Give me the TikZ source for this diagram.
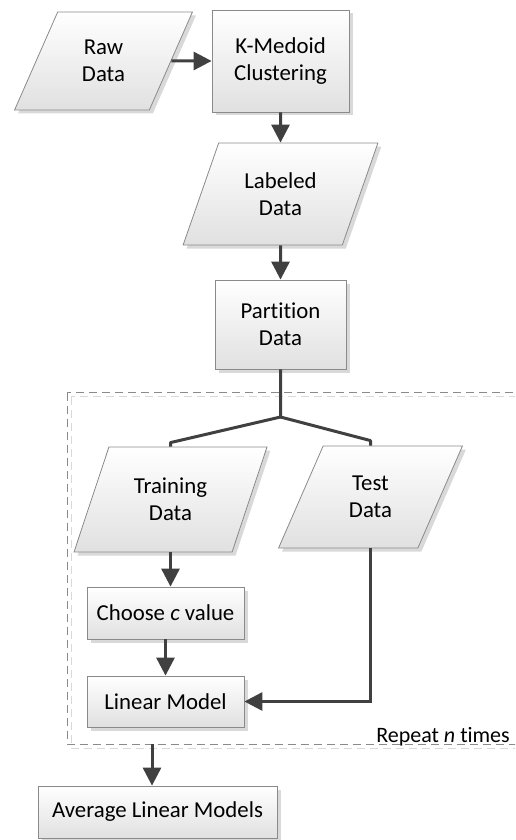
\documentclass[tikz,border=0pt]{standalone}
\usepackage{fontspec}
\setmainfont{Carlito}[Ligatures=NoCommon]
\usetikzlibrary{arrows.meta,shapes.geometric,shadows,calc}

\definecolor{flowline}{HTML}{404040}
\definecolor{boxedge}{HTML}{8A8A8A}
\definecolor{shade}{HTML}{D9D9D9}

\tikzset{
  label text/.style={font=\fontsize{22.8}{26.7}\selectfont},
  base/.style={draw=boxedge, line width=0.8pt, top color=white, bottom color=black!12,
    align=center, label text, inner sep=0pt,
    drop shadow={shadow xshift=3.5pt, shadow yshift=-3.5pt, fill=shade, opacity=1}},
  process/.style={base, rectangle},
  datanode/.style={base, trapezium, trapezium left angle=64, trapezium right angle=116,
    trapezium stretches=true},
  flow/.style={draw=flowline, line width=3pt, -{Triangle[length=18pt,width=18pt]}},
  branch/.style={draw=flowline, line width=3pt, line join=round},
  loopframe/.style={draw=boxedge, line width=1pt, dash pattern=on 8pt off 5pt},
}

\begin{document}
\begin{tikzpicture}[x=1pt, y=-1pt]
\useasboundingbox (0,0) rectangle (515,840);
\clip (0,0) rectangle (515,840);

% repeated part of the procedure: dashed frame with its light offset copy
\coordinate (frameNW) at (67,392.5);
\coordinate (frameSE) at (530,744);
\draw[loopframe, draw=shade] ($(frameNW)+(4,4)$) rectangle ($(frameSE)+(4,4)$);
\draw[loopframe] (frameNW) rectangle (frameSE);
\coordinate (loopexit) at (152,744);
\node[anchor=base east, font=\fontsize{22}{26.7}\selectfont, inner sep=0pt] (repeat) at (510,742) {Repeat \emph{n} times};

% steps
\node[datanode, minimum width=179pt, minimum height=98pt] (raw) at (103.5,61) {Raw\\Data};
\node[process, minimum width=137pt, minimum height=102pt] (km) at (280.5,61) {K-Medoid\\Clustering};
\node[datanode, minimum width=195pt, minimum height=102pt] (lab) at (280.5,194) {Labeled\\Data};
\node[process, minimum width=131pt, minimum height=89pt] (part) at (280.5,324.5) {Partition\\Data};
\node[datanode, minimum width=193pt, minimum height=105pt] (train) at (170.5,499.5) {Training\\Data};
\node[datanode, minimum width=185pt, minimum height=102pt] (test) at (370.5,497) {Test\\Data};
\node[process, minimum width=157pt, minimum height=52pt] (choose) at (165.5,613) {Choose \emph{c} value};
\node[process, minimum width=157pt, minimum height=51pt] (lin) at (165.5,701.5) {Linear Model};
\node[process, minimum width=239pt, minimum height=52pt] (avg) at (157.5,812) {Average Linear Models};

% connectors
\draw[flow] (raw) -- (km);
\draw[flow] (km.south) -- (lab.north);
\draw[flow] (lab.south) -- (part.north);

\coordinate (fork) at (280.5,417);
\coordinate (forkL) at ($(train.north)+(0,-4)$);
\coordinate (forkR) at ($(test.north)+(0,-5)$);
\draw[branch] (part.south) -- (fork) -- (forkL) -- (train.north);
\draw[branch] (fork) -- (forkR) -- (test.north);

\draw[flow] (train.south) -- (train.south |- choose.north);
\draw[flow] (choose.south) -- (lin.north);
\draw[flow] (test.south) |- (lin.east);
\draw[flow] (loopexit) -- (loopexit |- avg.north);
\end{tikzpicture}
\end{document}
